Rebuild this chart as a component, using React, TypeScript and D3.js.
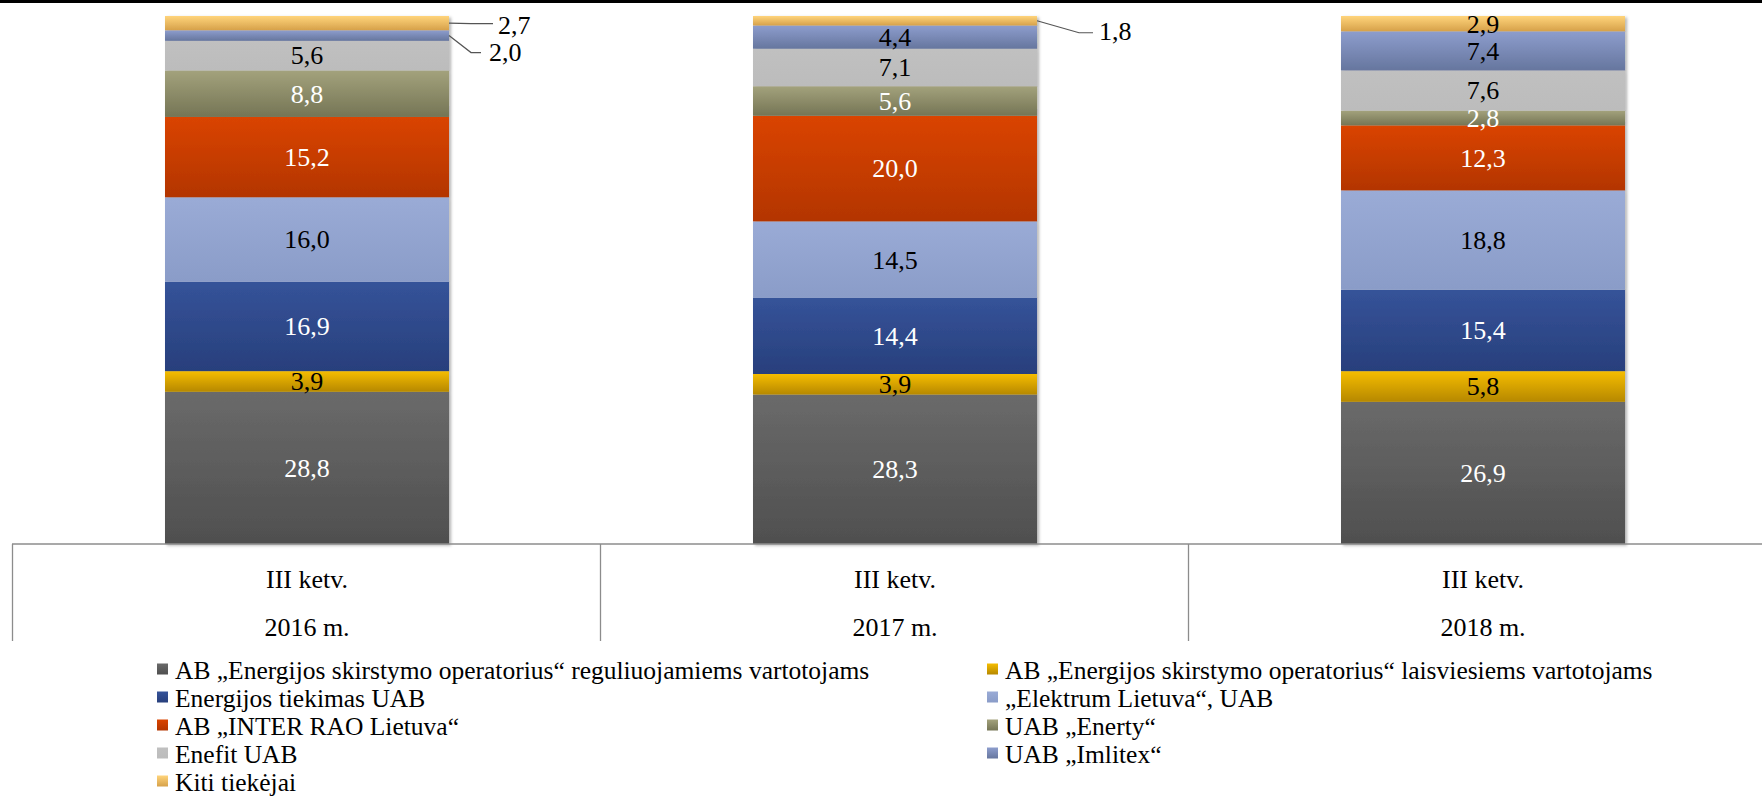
import React from "react";
import * as d3 from "d3";

// ---------- DATA ----------
const categories = ["2016 m.", "2017 m.", "2018 m."];
const quarterLabel = "III ketv.";
const seriesNames = [
  "AB „Energijos skirstymo operatorius“ reguliuojamiems vartotojams",
  "AB „Energijos skirstymo operatorius“ laisviesiems vartotojams",
  "Energijos tiekimas UAB",
  "„Elektrum Lietuva“, UAB",
  "AB „INTER RAO Lietuva“",
  "UAB „Enerty“",
  "Enefit UAB",
  "UAB „Imlitex“",
  "Kiti tiekėjai",
];
const esoRegulated = [28.8, 28.3, 26.9];
const esoFree = [3.9, 3.9, 5.8];
const energijosTiekimas = [16.9, 14.4, 15.4];
const elektrum = [16.0, 14.5, 18.8];
const interRao = [15.2, 20.0, 12.3];
const enerty = [8.8, 5.6, 2.8];
const enefit = [5.6, 7.1, 7.6];
const imlitex = [2.0, 4.4, 7.4];
const others = [2.7, 1.8, 2.9];
const seriesValues = [esoRegulated, esoFree, energijosTiekimas, elektrum, interRao, enerty, enefit, imlitex, others];

// ---------- STYLE ----------
const gradTop = ["#6a6a6a", "#f5bd00", "#355399", "#9aabd6", "#da4400", "#a3a27c", "#c0c0c0", "#8d9dcd", "#ffd47b"];
const gradBottom = ["#4f4f4f", "#b68800", "#283f7c", "#8a9cc8", "#b33500", "#757555", "#bcbcbc", "#66769e", "#d6a14a"];
const labelColors = ["#fff", "#000", "#fff", "#000", "#fff", "#fff", "#000", "#000", "#000"];

// labels placed outside the bar with leader lines (offsets from the bar's right edge / segment middle)
const leaderLabels = [
  { c: 0, s: 8, ex: 22, ey: 0.5, endX: 44, tx: 49, ty: 2 },
  { c: 0, s: 7, ex: 22, ey: 17, endX: 32, tx: 40, ty: 17 },
  { c: 1, s: 8, ex: 42, ey: 12, endX: 56, tx: 62, ty: 10 },
];

const W = 1762;
const H = 801;
const FONT = "'Liberation Serif', 'Times New Roman', serif";

const fmt = (v: number) => d3.format(".1f")(v).replace(".", ",");

export default function App() {
  const rows = categories.map((c, ci) => {
    const o: any = { cat: c };
    seriesValues.forEach((arr, si) => (o[si] = arr[ci]));
    return o;
  });
  const keys = seriesValues.map((_, i) => i);
  const stacked = d3.stack<any, number>().keys(keys).offset(d3.stackOffsetExpand)(rows);

  const x = d3.scaleBand<string>().domain(categories).range([13, 1777]).padding(0);
  const y = d3.scaleLinear().domain([0, 1]).range([544, 16]);
  const barW = x.bandwidth() * 0.483;
  const barX = (c: string) => (x(c) as number) + (x.bandwidth() - barW) / 2;

  const legendCols = [157, 987];
  const legendBase = 678.5;
  const legendStep = 28;

  return (
    <svg
      width={W}
      height={H}
      style={{ position: "absolute", left: 0, top: 0, background: "#fff" }}
      fontFamily={FONT}
    >
      <defs>
        {keys.map((k) => (
          <linearGradient key={k} id={`g${k}`} x1="0" y1="0" x2="0" y2="1">
            <stop offset="0" stopColor={gradTop[k]} />
            <stop offset="1" stopColor={gradBottom[k]} />
          </linearGradient>
        ))}
        <filter id="shadow" x="-10%" y="-10%" width="130%" height="130%">
          <feDropShadow dx="2" dy="1.5" stdDeviation="1.8" floodColor="#000" floodOpacity="0.3" />
        </filter>
      </defs>

      <rect x={0} y={0} width={W} height={3} fill="#000" />

      {/* bars */}
      {categories.map((c, ci) => (
        <g key={c} filter="url(#shadow)">
          {stacked.map((s) => (
            <rect
              key={s.key}
              x={barX(c)}
              y={y(s[ci][1])}
              width={barW}
              height={y(s[ci][0]) - y(s[ci][1])}
              fill={`url(#g${s.key})`}
            />
          ))}
        </g>
      ))}

      {/* inside labels */}
      {categories.map((c, ci) =>
        stacked.map((s) => {
          const si = s.key as number;
          if (leaderLabels.some((l) => l.c === ci && l.s === si)) return null;
          const mid = (y(s[ci][0]) + y(s[ci][1])) / 2;
          return (
            <text
              key={`${c}-${si}`}
              x={barX(c) + barW / 2}
              y={mid}
              dy="0.34em"
              textAnchor="middle"
              fontSize={26}
              fill={labelColors[si]}
            >
              {fmt(seriesValues[si][ci])}
            </text>
          );
        })
      )}

      {/* leader labels */}
      {leaderLabels.map((l, i) => {
        const s = stacked[l.s];
        const c = categories[l.c];
        const mid = (y(s[l.c][0]) + y(s[l.c][1])) / 2;
        const x0 = barX(c) + barW;
        return (
          <g key={i}>
            <polyline
              points={`${x0},${mid} ${x0 + l.ex},${mid + l.ey} ${x0 + l.endX},${mid + l.ey}`}
              fill="none"
              stroke="#555"
              strokeWidth={1.2}
            />
            <text x={x0 + l.tx} y={mid + l.ty} dy="0.34em" fontSize={26} fill="#000">
              {fmt(seriesValues[l.s][l.c])}
            </text>
          </g>
        );
      })}

      {/* category table */}
      <line x1={12} x2={W} y1={544} y2={544} stroke="#8c8c8c" strokeWidth={1.3} />
      {categories.map((c) => (
        <line
          key={`v${c}`}
          x1={(x(c) as number) - 0.5}
          x2={(x(c) as number) - 0.5}
          y1={544}
          y2={641}
          stroke="#8c8c8c"
          strokeWidth={1.3}
        />
      ))}
      {categories.map((c) => (
        <g key={`t${c}`}>
          <text x={(x(c) as number) + x.bandwidth() / 2} y={588} textAnchor="middle" fontSize={26} fill="#000">
            {quarterLabel}
          </text>
          <text x={(x(c) as number) + x.bandwidth() / 2} y={636} textAnchor="middle" fontSize={26} fill="#000">
            {c}
          </text>
        </g>
      ))}

      {/* legend */}
      {seriesNames.map((name, i) => {
        const col = i % 2;
        const row = Math.floor(i / 2);
        const lx = legendCols[col];
        const ly = legendBase + row * legendStep;
        return (
          <g key={name}>
            <rect x={lx} y={ly - 15} width={11} height={11} fill={`url(#g${i})`} />
            <text x={lx + 18} y={ly} fontSize={25.5} fill="#000">
              {name}
            </text>
          </g>
        );
      })}
    </svg>
  );
}
